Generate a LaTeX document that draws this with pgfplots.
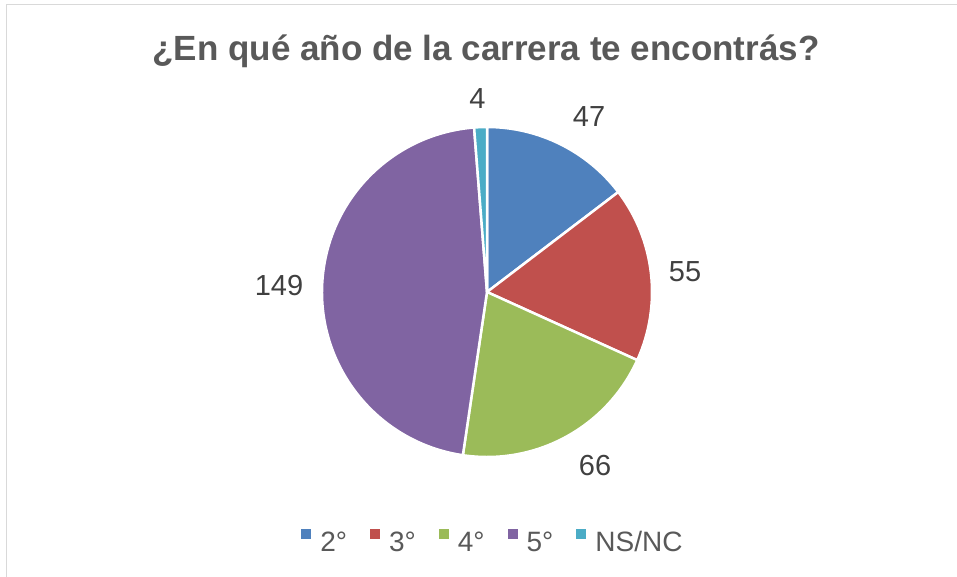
\documentclass[border=0pt]{standalone}
\usepackage{pgfplots}
\pgfplotsset{compat=1.18}
\usepackage{pgfplotstable}
\usepackage{fontspec}
\setmainfont{Liberation Sans}

\definecolor{c2}{HTML}{4F81BD}
\definecolor{c3}{HTML}{C0504D}
\definecolor{c4}{HTML}{9BBB59}
\definecolor{c5}{HTML}{8064A2}
\definecolor{cns}{HTML}{4BACC6}
\definecolor{titlegray}{HTML}{595959}
\definecolor{labgray}{HTML}{404040}
\definecolor{framegray}{HTML}{D9D9D9}

% slice values, label offsets (pt) from the centre
\pgfplotstableread{
value lx ly
47 102 175.5
55 198 20.5
66 108 -173.5
149 -208 6.5
4 -9.5 193.5
}\piedata

\begin{document}
\begin{tikzpicture}[x=1pt,y=1pt]
\useasboundingbox (0,0) rectangle (957,576);
\draw[framegray, line width=1.5pt] (6.5,-5) -- (6.5,571.5) -- (962,571.5);
\node[anchor=base, text=titlegray, font=\fontsize{35}{42}\selectfont\bfseries, inner sep=0pt]
  at (486,515) {¿En qué año de la carrera te encontrás?};
\begin{axis}[
  at={(487pt,284pt)}, anchor=center,
  scale only axis, width=330pt, height=330pt,
  xmin=-1, xmax=1, ymin=-1, ymax=1,
  hide axis, clip=false,
  legend style={at={(0.515,-0.2545)}, anchor=center, draw=none, fill=none,
    legend columns=-1, font=\fontsize{28}{33}\selectfont, text=titlegray,
    nodes={inner sep=0pt},
    /tikz/every odd column/.append style={column sep=9pt},
    /tikz/every even column/.append style={column sep=23pt}},
  legend image code/.code={\fill[#1] (0pt,3pt) rectangle (10pt,13pt);},
]
\pgfplotsextra{
  \gdef\pietotal{0}
  \foreach \i in {0,...,4}{
    \pgfplotstablegetelem{\i}{value}\of\piedata
    \pgfmathsetmacro\tmp{\pietotal+\pgfplotsretval}
    \xdef\pietotal{\tmp}
  }
  \gdef\piecum{0}
  \foreach \i/\col in {0/c2,1/c3,2/c4,3/c5,4/cns}{
    \pgfplotstablegetelem{\i}{value}\of\piedata \edef\v{\pgfplotsretval}
    \pgfplotstablegetelem{\i}{lx}\of\piedata \edef\lx{\pgfplotsretval}
    \pgfplotstablegetelem{\i}{ly}\of\piedata \edef\ly{\pgfplotsretval}
    \pgfmathsetmacro\nextcum{\piecum+\v}
    \pgfmathsetmacro\sa{90-\piecum/\pietotal*360}
    \pgfmathsetmacro\ea{90-\nextcum/\pietotal*360}
    \filldraw[fill=\col, draw=white, line width=2.5pt, line join=round]
      (axis cs:0,0) -- ([shift={(\sa:165pt)}]axis cs:0,0)
      arc[start angle=\sa, end angle=\ea, radius=165pt] -- cycle;
    \node[text=labgray, font=\fontsize{29}{34}\selectfont, inner sep=0pt]
      at ([shift={(\lx pt,\ly pt)}]axis cs:0,0) {\v};
    \xdef\piecum{\nextcum}
  }
}
\addlegendimage{fill=c2, draw=none}\addlegendentry{2°}
\addlegendimage{fill=c3, draw=none}\addlegendentry{3°}
\addlegendimage{fill=c4, draw=none}\addlegendentry{4°}
\addlegendimage{fill=c5, draw=none}\addlegendentry{5°}
\addlegendimage{fill=cns, draw=none}\addlegendentry{NS/NC}
\end{axis}
\end{tikzpicture}
\end{document}
